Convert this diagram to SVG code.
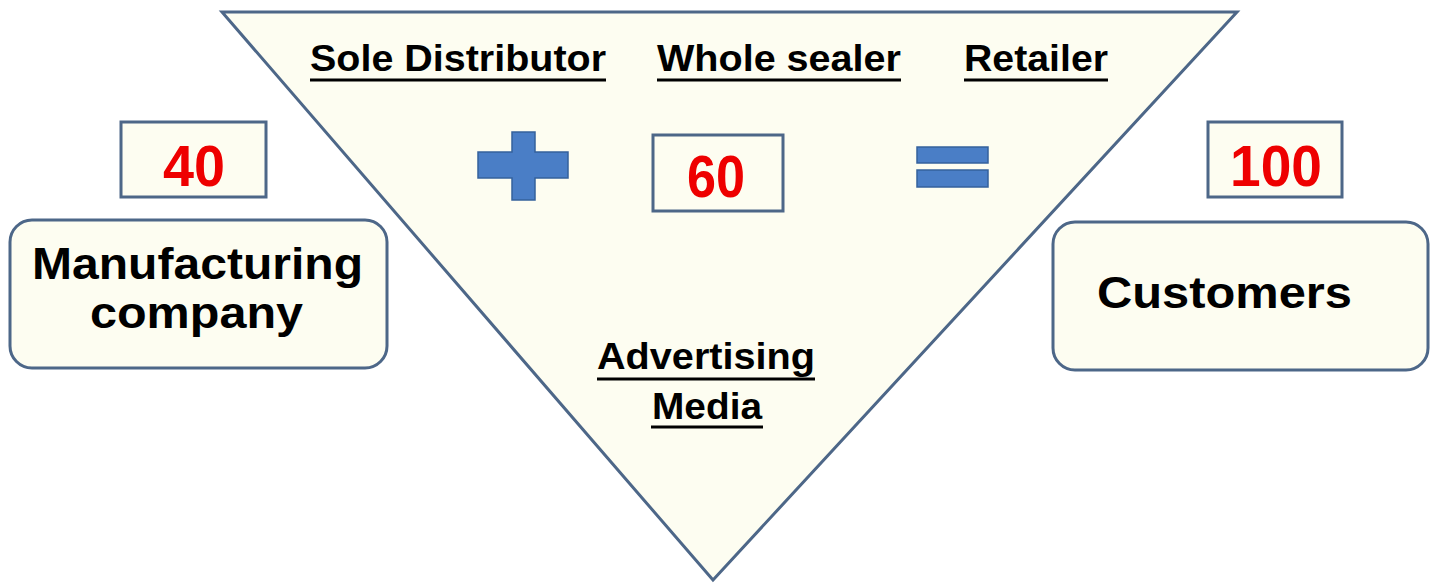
<svg xmlns="http://www.w3.org/2000/svg" width="1431" height="585" viewBox="0 0 1431 585">
<style>
.shape{fill:#fdfdf1;stroke:#4d6788;stroke-width:3}
.num{font-family:"Liberation Sans",Arial,sans-serif;font-weight:bold;fill:#ee0000}
.lbl{font-family:"Liberation Sans",Arial,sans-serif;font-weight:bold;fill:#000;font-size:36px}
.big{font-family:"Liberation Sans",Arial,sans-serif;font-weight:bold;fill:#000;font-size:45px}
.ul{stroke:#000;stroke-width:3}
.op{fill:#4a7ec6;stroke:#35619c;stroke-width:1.5}
</style>
<rect width="1431" height="585" fill="#ffffff"/>
<g id="funnel">
<polygon class="shape" points="222,12 1237,12 713,580"/>
</g>
<g id="sole-distributor">
<text class="lbl" x="310" y="71" textLength="296" lengthAdjust="spacingAndGlyphs">Sole Distributor</text>
<line class="ul" x1="310" y1="80" x2="606" y2="80"/>
</g>
<g id="whole-sealer">
<text class="lbl" x="657" y="71" textLength="244" lengthAdjust="spacingAndGlyphs">Whole sealer</text>
<line class="ul" x1="657" y1="80" x2="901" y2="80"/>
</g>
<g id="retailer">
<text class="lbl" x="964" y="71" textLength="144" lengthAdjust="spacingAndGlyphs">Retailer</text>
<line class="ul" x1="964" y1="80" x2="1108" y2="80"/>
</g>
<g id="advertising-media">
<text class="lbl" x="597" y="369" textLength="218" lengthAdjust="spacingAndGlyphs" style="font-size:37px">Advertising</text>
<line class="ul" x1="597" y1="379" x2="815" y2="379"/>
<text class="lbl" x="652" y="419" textLength="110" lengthAdjust="spacingAndGlyphs" style="font-size:37px">Media</text>
<line class="ul" x1="651" y1="427" x2="763" y2="427"/>
</g>
<g id="box-40">
<rect class="shape" x="121" y="122" width="145" height="75"/>
<text class="num" x="163" y="186" textLength="62" lengthAdjust="spacingAndGlyphs" style="font-size:58px">40</text>
</g>
<g id="manufacturing-company">
<rect class="shape" x="10" y="220" width="377" height="148" rx="22"/>
<text class="big" x="32" y="279" textLength="331" lengthAdjust="spacingAndGlyphs">Manufacturing</text>
<text class="big" x="90" y="328" textLength="213" lengthAdjust="spacingAndGlyphs">company</text>
</g>
<g id="plus">
<path class="op" d="M512,132 H535 V152 H568 V178 H535 V200 H512 V178 H478 V152 H512 Z"/>
</g>
<g id="box-60">
<rect class="shape" x="653" y="135" width="130" height="76"/>
<text class="num" x="687" y="197" textLength="58" lengthAdjust="spacingAndGlyphs" style="font-size:60px">60</text>
</g>
<g id="equals">
<rect class="op" x="917" y="147" width="71" height="16"/>
<rect class="op" x="917" y="170" width="71" height="17"/>
</g>
<g id="box-100">
<rect class="shape" x="1208" y="122" width="134" height="75"/>
<text class="num" x="1230" y="186" textLength="92" lengthAdjust="spacingAndGlyphs" style="font-size:58px">100</text>
</g>
<g id="customers">
<rect class="shape" x="1053" y="222" width="375" height="148" rx="22"/>
<text class="big" x="1097" y="308" textLength="255" lengthAdjust="spacingAndGlyphs" style="font-size:44px">Customers</text>
</g>
</svg>
